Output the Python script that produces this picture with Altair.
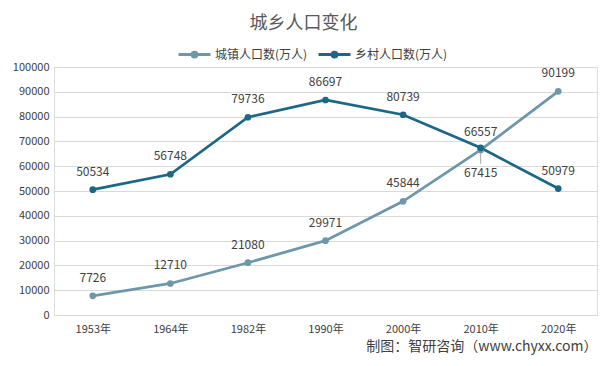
import altair as alt
import pandas as pd

years = ["1953年", "1964年", "1982年", "1990年", "2000年", "2010年", "2020年"]
series = ["城镇人口数(万人)", "乡村人口数(万人)"]
urban = [7726, 12710, 21080, 29971, 45844, 66557, 90199]
rural = [50534, 56748, 79736, 86697, 80739, 67415, 50979]
colors = ["#6e97a9", "#1b6886"]
source = "制图：智研咨询（www.chyxx.com）"
title = "城乡人口变化"

rows = []
for i, yr in enumerate(years):
    rows.append({"year": yr, "series": series[0], "value": urban[i]})
for i, yr in enumerate(years):
    rows.append({"year": yr, "series": series[1], "value": rural[i]})
df = pd.DataFrame(rows)

FONT = "Noto Sans CJK SC"
TXT = "#404040"

x = alt.X(
    "year:O",
    sort=years,
    scale=alt.Scale(type="point", padding=0.5),
    axis=alt.Axis(
        title=source, titleAnchor="end", titleFontSize=14, titleFontWeight="normal",
        titleColor=TXT, titleFont=FONT, titlePadding=5,
        labelAngle=0, labelPadding=8, labelFontSize=11, labelColor=TXT, labelFont=FONT,
        ticks=False, domain=False, grid=False,
    ),
)
y = alt.Y(
    "value:Q",
    scale=alt.Scale(domain=[0, 100000]),
    axis=alt.Axis(
        title=None, tickCount=10, format="d", grid=True, gridColor="#d9d9d9",
        domain=False, ticks=False, labelPadding=5, labelFontSize=11,
        labelColor=TXT, labelFont=FONT,
    ),
)
color = alt.Color(
    "series:N",
    sort=series,
    scale=alt.Scale(domain=series, range=colors),
    legend=alt.Legend(
        title=None, orient="none", direction="horizontal", legendX=123, legendY=-30,
        symbolType="M-1,0H1M-0.15,0A0.15,0.15,0,1,0,0.15,0A0.15,0.15,0,1,0,-0.15,0Z",
        symbolSize=1024, symbolStrokeWidth=3, labelFontSize=12, labelColor=TXT,
        labelFont=FONT, labelOffset=3, columnPadding=4,
    ),
)

base = alt.Chart(df)
lines = base.mark_line(strokeWidth=2.75).encode(x=x, y=y, color=color)
points = base.mark_point(filled=True, size=45, opacity=1).encode(x=x, y=y, color=color)

is_exc = "datum.year == '2010年' && datum.series == '乡村人口数(万人)'"
labels = base.mark_text(dy=-18, fontSize=12, color=TXT, font=FONT).encode(
    x=x, y=y, text=alt.Text("value:Q", format="d")
).transform_filter("!(" + is_exc + ")")
labels_exc = base.mark_text(dy=25, fontSize=12, color=TXT, font=FONT).encode(
    x=x, y=y, text=alt.Text("value:Q", format="d")
).transform_filter(is_exc)
leader = base.mark_rule(color="#a6a6a6", strokeWidth=1, yOffset=5, y2Offset=16).encode(
    x=x, y=y, y2="value:Q"
).transform_filter(is_exc)

chart = alt.layer(lines, points, leader, labels, labels_exc).properties(
    width=543, height=248,
    title=alt.Title(title, fontSize=18, font=FONT, fontWeight="normal",
                    color="#595959", anchor="middle", offset=4, dx=-22),
    autosize=alt.AutoSizeParams(type="none"),
    padding={"left": 46, "top": 59, "right": 2, "bottom": 43},
).configure_view(stroke=None).configure(background="white")

chart.save("out.html", embed_options={"renderer": "svg", "actions": False})
